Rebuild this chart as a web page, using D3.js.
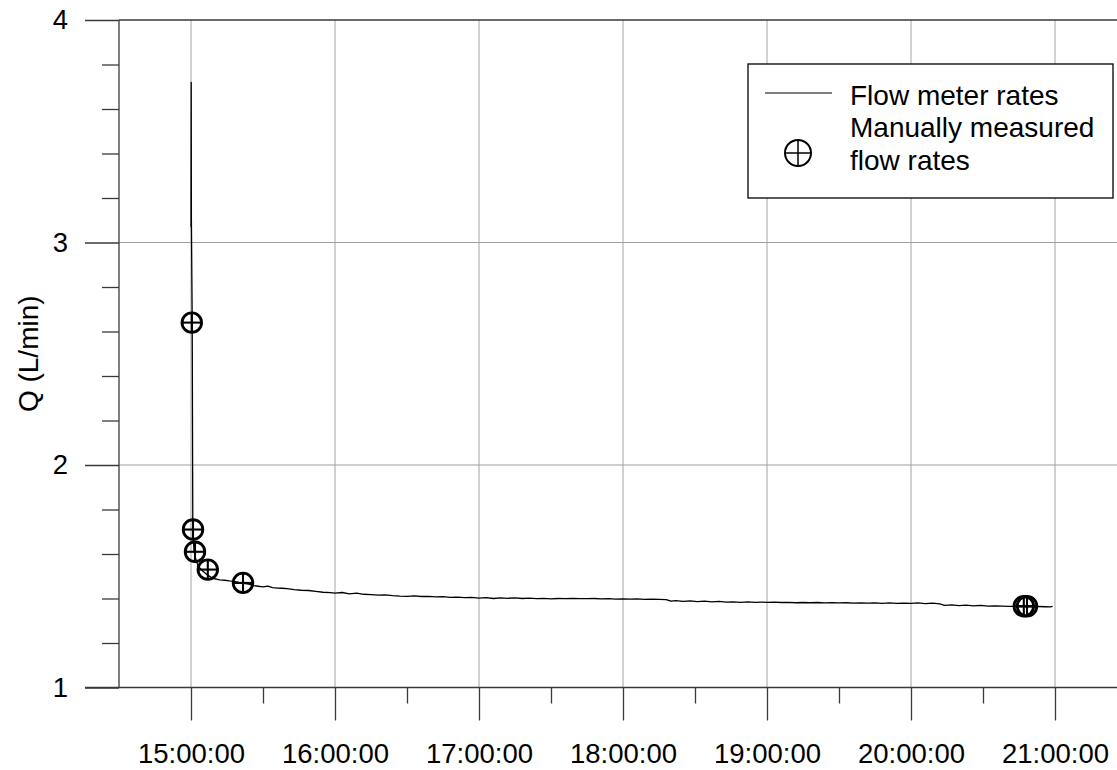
<!DOCTYPE html>
<html>
<head>
<meta charset="utf-8">
<script src="https://cdn.jsdelivr.net/npm/d3@7"></script>
<style>
  html, body { margin: 0; padding: 0; background: #fff; }
  svg { display: block; font-family: "Liberation Sans", Arial, sans-serif; }
</style>
</head>
<body>
<svg id="chart" width="1117" height="770"></svg>
<script>
// Flow meter record (time of day, Q in L/min)
const meterTimes = [
  "15:00:00","15:00:05","15:00:10","15:00:30","15:00:45","15:01:15","15:02:00","15:03:00",
  "15:05:00","15:07:00","15:09:00","15:12:00","15:14:00","15:16:00","15:18:00","15:20:00",
  "15:22:00","15:24:00","15:26:00","15:28:00","15:30:00","15:32:00","15:34:00","15:36:00",
  "15:38:00","15:40:00","15:43:00","15:46:00","15:49:00","15:52:00","15:55:00","15:58:00",
  "16:00:00","16:03:00","16:06:00","16:09:00","16:12:00","16:15:00","16:18:00","16:21:00",
  "16:24:00","16:27:00","16:30:00","16:33:00","16:36:00","16:39:00","16:42:00","16:45:00",
  "16:48:00","16:51:00","16:54:00","16:57:00","17:00:00","17:03:00","17:06:00","17:09:00",
  "17:12:00","17:15:00","17:18:00","17:21:00","17:24:00","17:27:00","17:30:00","17:33:00",
  "17:36:00","17:39:00","17:42:00","17:45:00","17:48:00","17:51:00","17:54:00","17:57:00",
  "18:00:00","18:03:00","18:06:00","18:09:00","18:12:00","18:15:00","18:18:00","18:20:00",
  "18:22:00","18:25:00","18:28:00","18:31:00","18:34:00","18:37:00","18:40:00","18:43:00",
  "18:46:00","18:49:00","18:52:00","18:55:00","18:58:00","19:00:00","19:03:00","19:06:00",
  "19:09:00","19:12:00","19:15:00","19:18:00","19:21:00","19:24:00","19:27:00","19:30:00",
  "19:33:00","19:36:00","19:39:00","19:42:00","19:45:00","19:48:00","19:51:00","19:54:00",
  "19:57:00","20:00:00","20:03:00","20:06:00","20:09:00","20:12:00","20:14:00","20:17:00",
  "20:20:00","20:23:00","20:26:00","20:29:00","20:32:00","20:35:00","20:38:00","20:41:00",
  "20:44:00","20:47:00","20:50:00","20:53:00","20:56:00","20:58:00","20:59:00"
];
const meterQ = [
  3.07,3.72,3.10,2.64,1.72,1.615,1.575,1.545,
  1.522,1.505,1.491,1.484,1.482,1.479,1.477,1.472,
  1.468,1.465,1.458,1.455,1.452,1.456,1.449,1.447,
  1.446,1.444,1.440,1.437,1.436,1.432,1.428,1.426,
  1.424,1.427,1.421,1.424,1.419,1.417,1.415,1.416,
  1.413,1.411,1.410,1.412,1.409,1.410,1.407,1.408,
  1.405,1.406,1.404,1.405,1.402,1.404,1.400,1.403,
  1.401,1.403,1.400,1.402,1.399,1.401,1.398,1.400,
  1.399,1.400,1.399,1.399,1.400,1.398,1.399,1.397,
  1.398,1.397,1.398,1.396,1.397,1.396,1.395,1.388,
  1.390,1.387,1.389,1.386,1.388,1.385,1.387,1.384,
  1.385,1.383,1.385,1.383,1.384,1.383,1.384,1.382,
  1.383,1.381,1.382,1.381,1.382,1.380,1.381,1.380,
  1.381,1.379,1.380,1.379,1.380,1.378,1.380,1.378,
  1.379,1.378,1.380,1.377,1.379,1.376,1.369,1.371,
  1.368,1.370,1.367,1.369,1.366,1.367,1.366,1.365,
  1.365,1.364,1.364,1.364,1.363,1.362,1.365
];

// Manually measured flow rates
const manualTimes = ["15:00:20","15:00:50","15:01:40","15:07:00","15:21:40","20:47:00","20:48:20"];
const manualQ = [2.64, 1.71, 1.61, 1.53, 1.47, 1.365, 1.365];

// Axis ticks
const hourTicks = ["15:00:00","16:00:00","17:00:00","18:00:00","19:00:00","20:00:00","21:00:00"];
const halfHourTicks = ["15:30:00","16:30:00","17:30:00","18:30:00","19:30:00","20:30:00"];
const qTicks = [1, 2, 3, 4];
const qMinorTicks = [1.2, 1.4, 1.6, 1.8, 2.2, 2.4, 2.6, 2.8, 3.2, 3.4, 3.6, 3.8];
const timeDomain = ["14:30:00", "21:30:00"];

const legendLabels = ["Flow meter rates", "Manually measured", "flow rates"];
const yTitle = "Q (L/min)";

const parse = d3.timeParse("%H:%M:%S");
const meter = meterTimes.map((t, i) => ({ t: parse(t), q: meterQ[i] }));
const manual = manualTimes.map((t, i) => ({ t: parse(t), q: manualQ[i] }));

const svg = d3.select("#chart");
const plotLeft = 119, plotTop = 20, plotBottom = 687.5, plotRight = 1127;

const x = d3.scaleTime().domain(timeDomain.map(parse)).range([plotLeft, plotRight]);
const y = d3.scaleLinear().domain([1, 4]).range([plotBottom, plotTop]);

const axisColor = "#3a3a3a";
const gridColor = "#b4b4b4";
const tickFont = 27.5;
const textFont = 28;

// Grid
const grid = svg.append("g");
grid.selectAll("line.v").data(hourTicks.map(parse)).join("line")
  .attr("class", "v")
  .attr("x1", d => x(d)).attr("x2", d => x(d))
  .attr("y1", plotTop).attr("y2", plotBottom)
  .attr("stroke", gridColor).attr("stroke-width", 1.2);
grid.selectAll("line.h").data([2, 3]).join("line")
  .attr("class", "h")
  .attr("x1", plotLeft).attr("x2", plotRight)
  .attr("y1", d => y(d)).attr("y2", d => y(d))
  .attr("stroke", "#a0a0a0").attr("stroke-width", 1.2);

// Top frame
svg.append("line")
  .attr("x1", plotLeft).attr("x2", plotRight).attr("y1", plotTop).attr("y2", plotTop)
  .attr("stroke", axisColor).attr("stroke-width", 1.3);

// X axis: hours with labels, half hours as minor ticks
const xAxis = svg.append("g").attr("transform", `translate(0,${plotBottom})`)
  .call(d3.axisBottom(x).tickValues(hourTicks.map(parse))
    .tickFormat(d3.timeFormat("%H:%M:%S")).tickSize(33).tickPadding(23));
const xMinor = svg.append("g").attr("transform", `translate(0,${plotBottom})`)
  .call(d3.axisBottom(x).tickValues(halfHourTicks.map(parse)).tickFormat("").tickSize(16));

// Y axis: whole numbers with labels, 0.2 steps as minor ticks
const yAxis = svg.append("g").attr("transform", `translate(${plotLeft},0)`)
  .call(d3.axisLeft(y).tickValues(qTicks).tickFormat(d3.format("d")).tickSize(34).tickPadding(17));
const yMinor = svg.append("g").attr("transform", `translate(${plotLeft},0)`)
  .call(d3.axisLeft(y).tickValues(qMinorTicks).tickFormat("").tickSize(17));

[xAxis, xMinor, yAxis, yMinor].forEach(g => {
  g.select(".domain").remove();
  g.selectAll(".tick line").attr("stroke", axisColor).attr("stroke-width", 1.3);
  g.selectAll(".tick text").attr("fill", "#000").style("font-size", tickFont + "px")
    .style("font-family", "'Liberation Sans', Arial, sans-serif");
});

// Axis lines (x axis runs left to the end of the major y tick)
svg.append("line").attr("x1", plotLeft - 34).attr("x2", plotRight).attr("y1", plotBottom).attr("y2", plotBottom)
  .attr("stroke", axisColor).attr("stroke-width", 1.3);
svg.append("line").attr("x1", plotLeft).attr("x2", plotLeft).attr("y1", plotTop).attr("y2", plotBottom)
  .attr("stroke", axisColor).attr("stroke-width", 1.3);

// Y title
svg.append("text")
  .attr("transform", `translate(38,${(plotTop + plotBottom) / 2}) rotate(-90)`)
  .attr("text-anchor", "middle")
  .style("font-size", textFont + "px")
  .text(yTitle);

// Flow meter line
const line = d3.line().x(d => x(d.t)).y(d => y(d.q));
svg.append("path").datum(meter)
  .attr("d", line).attr("fill", "none")
  .attr("stroke", "#000").attr("stroke-width", 1.3).attr("stroke-linejoin", "round");

// Crossed-circle marker
function crossCircle(g, r, sw) {
  g.append("circle").attr("r", r).attr("fill", "none").attr("stroke", "#000").attr("stroke-width", sw);
  g.append("line").attr("x1", -r).attr("x2", r).attr("stroke", "#000").attr("stroke-width", sw * 0.75);
  g.append("line").attr("y1", -r).attr("y2", r).attr("stroke", "#000").attr("stroke-width", sw * 0.75);
}

svg.append("g").selectAll("g").data(manual).join("g")
  .attr("transform", d => `translate(${x(d.t)},${y(d.q)})`)
  .each(function () { crossCircle(d3.select(this), 9.8, 2.8); });

// Legend
const lg = svg.append("g");
lg.append("rect").attr("x", 748).attr("y", 64).attr("width", 365).attr("height", 134)
  .attr("fill", "#fff").attr("stroke", "#000").attr("stroke-width", 1.3);
lg.append("line").attr("x1", 765).attr("x2", 832).attr("y1", 93).attr("y2", 93)
  .attr("stroke", "#000").attr("stroke-width", 1.2);
crossCircle(lg.append("g").attr("transform", "translate(798,153)"), 13, 2);
lg.selectAll("text").data(legendLabels).join("text")
  .attr("x", 850).attr("y", (d, i) => [105, 137, 170][i])
  .style("font-size", textFont + "px")
  .text(d => d);
</script>
</body>
</html>
